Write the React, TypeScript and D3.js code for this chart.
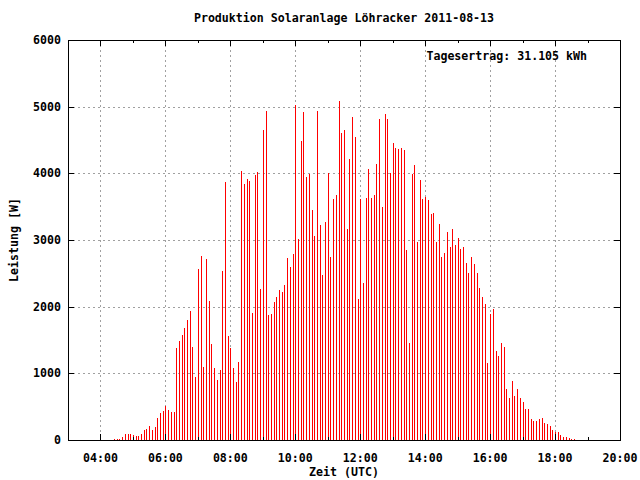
import React from "react";
import * as d3 from "d3";

const title = "Produktion Solaranlage Löhracker 2011-08-13";
const yieldLabel = "Tagesertrag: 31.105 kWh";
const xTitle = "Zeit (UTC)";
const yTitle = "Leistung [W]";

// first sample 04:25 UTC, 5-minute sampling
const startHour = 4 + 25 / 60;
const stepMinutes = 5;

const power = [
  15, 15, 15, 45, 90, 90, 90, 75, 60, 60, 95, 150, 165, 210, 150, 195, 330, 405, 435, 510, 450,
  420, 420, 1380, 1485, 1575, 1680, 1800, 1935, 1395, 945, 2565, 2760, 1095, 2715, 2085, 1440, 1080, 900, 1050, 2535,
  3870, 1560, 1380, 1080, 870, 1170, 4035, 3840, 3915, 3885, 1905, 3975, 4020, 2265, 4650, 4935, 1875, 1890, 2070, 2145, 2250,
  2220, 2325, 2730, 2595, 2790, 5025, 3015, 4485, 4920, 3945, 3990, 3450, 3060, 4935, 3225, 2475, 3270, 4005, 2745, 3615,
  3675, 5085, 4605, 4650, 3165, 4215, 4845, 4545, 2115, 3615, 2355, 3630, 4065, 3630, 3675, 4140, 4815, 3495, 4890, 4815, 4005,
  4455, 4380, 4365, 4380, 4350, 2850, 1455, 3990, 4125, 2970, 3900, 3615, 3645, 3600, 3390, 3405, 2970, 3240, 2745, 2805,
  3120, 2895, 3165, 2925, 3030, 2865, 2895, 2655, 2505, 2745, 2640, 2505, 2280, 2145, 2040, 1155, 1890, 1965, 1335, 1260,
  1455, 1395, 765, 630, 885, 660, 765, 630, 570, 465, 465, 315, 285, 285, 315, 330, 255, 240, 210, 150, 120, 120, 75, 45, 45, 30, 15, 15,
];

const xMajorTicks = [4, 6, 8, 10, 12, 14, 16, 18, 20];
const xMinorTicks = [5, 7, 9, 11, 13, 15, 17, 19];
const yTicks = [0, 1000, 2000, 3000, 4000, 5000, 6000];

const W = 640;
const H = 480;
const left = 68;
const right = 620;
const top = 40;
const bottom = 440;

const FONT = "'DejaVu Sans Mono', 'Liberation Mono', monospace";

export default function App() {
  const x = d3.scaleLinear().domain([3, 20]).range([left, right]);
  const y = d3.scaleLinear().domain([0, 6000]).range([bottom, top]);
  const fmt = (h: number) => (h < 10 ? "0" : "") + h + ":00";
  const gridColor = "#a0a0a0";

  return (
    <div style={{ position: "absolute", left: 0, top: 0 }}>
      <svg width={W} height={H} style={{ display: "block", background: "#fff" }}>
        {/* grid */}
        <g stroke={gridColor} strokeWidth={1} strokeDasharray="2,3" shapeRendering="crispEdges">
          {xMajorTicks.filter((t) => t > 3 && t < 20).map((t) => (
            <line key={"gx" + t} x1={Math.round(x(t)) + 0.5} x2={Math.round(x(t)) + 0.5} y1={top} y2={bottom} />
          ))}
          {yTicks.filter((t) => t > 0 && t < 6000).map((t) => (
            <line key={"gy" + t} x1={left} x2={right} y1={Math.round(y(t)) + 0.5} y2={Math.round(y(t)) + 0.5} />
          ))}
        </g>
        {/* impulses */}
        <g stroke="#ff0000" strokeWidth={1} shapeRendering="crispEdges">
          {power.map((v, i) => {
            const h = startHour + (i * stepMinutes) / 60;
            const px = Math.round(x(h)) + 0.5;
            return <line key={i} x1={px} x2={px} y1={y(0)} y2={y(v)} />;
          })}
        </g>
        {/* ticks */}
        <g stroke="#000" strokeWidth={1} shapeRendering="crispEdges">
          {xMajorTicks.map((t) => {
            const px = Math.round(x(t)) + 0.5;
            return (
              <g key={"tx" + t}>
                <line x1={px} x2={px} y1={bottom} y2={bottom - 6} />
                <line x1={px} x2={px} y1={top} y2={top + 6} />
              </g>
            );
          })}
          {xMinorTicks.map((t) => {
            const px = Math.round(x(t)) + 0.5;
            return (
              <g key={"mx" + t}>
                <line x1={px} x2={px} y1={bottom} y2={bottom - 3} />
                <line x1={px} x2={px} y1={top} y2={top + 3} />
              </g>
            );
          })}
          {yTicks.map((t) => {
            const py = Math.round(y(t)) + 0.5;
            return (
              <g key={"ty" + t}>
                <line x1={left} x2={left + 6} y1={py} y2={py} />
                <line x1={right} x2={right - 6} y1={py} y2={py} />
              </g>
            );
          })}
          <rect x={left + 0.5} y={top + 0.5} width={right - left} height={bottom - top} fill="none" />
        </g>
        {/* labels */}
        <g fontFamily={FONT} fontWeight="bold" fontSize={11.6} fill="#000">
          {xMajorTicks.map((t) => (
            <text key={"lx" + t} x={x(t)} y={462} textAnchor="middle">{fmt(t)}</text>
          ))}
          {yTicks.map((t) => (
            <text key={"ly" + t} x={61} y={y(t) + 4} textAnchor="end">{t}</text>
          ))}
          <text x={(left + right) / 2} y={22} textAnchor="middle">{title}</text>
          <text x={587} y={60} textAnchor="end">{yieldLabel}</text>
          <text x={(left + right) / 2} y={476} textAnchor="middle">{xTitle}</text>
          <text transform={`translate(18,${(top + bottom) / 2}) rotate(-90)`} textAnchor="middle">{yTitle}</text>
        </g>
      </svg>
    </div>
  );
}
